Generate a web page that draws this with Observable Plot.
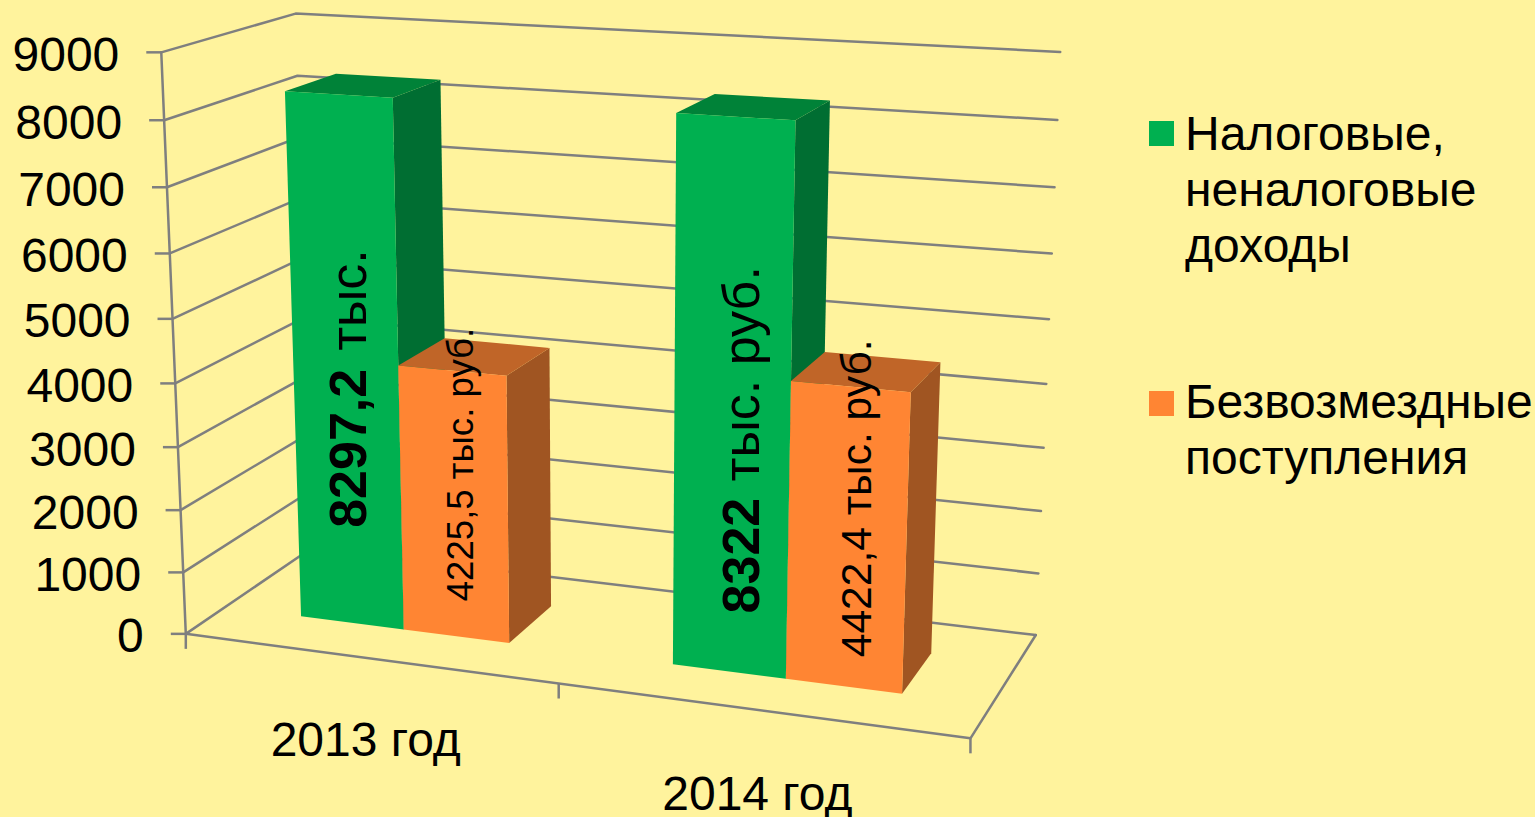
<!DOCTYPE html>
<html><head><meta charset="utf-8">
<script src="https://cdn.jsdelivr.net/npm/d3@7"></script>
<script src="https://cdn.jsdelivr.net/npm/@observablehq/plot@0.6"></script>
<style>
html,body{margin:0;background:#FFF39D;overflow:hidden;font-family:"Liberation Sans",Arial,sans-serif}
#wrap{position:relative;width:1535px;height:817px}
.sw{position:absolute;left:1149px;width:25px;height:25px}
.lg{position:absolute;left:1185px;font-size:48px;line-height:56px;color:#000;white-space:nowrap}
</style>
</head><body><div id="wrap"><div id="c"></div></div>
<script>
// ---------- data ----------
const categories=["2013 год","2014 год"];
const seriesNames=[["Налоговые,","неналоговые","доходы"],["Безвозмездные","поступления"]];
const taxValues=[8297.2,8322];
// Heights as drawn in the picture: the 2014 orange bar stands a little above its printed 4422,4.
const grantValues=[4225.5,4547];
const axisValues=[0,1000,2000,3000,4000,5000,6000,7000,8000,9000];
const boldLabels=["8297,2","8322"];
const taxUnitLabels=["тыс.","тыс. руб."];
const grantLabels=["4225,5 тыс. руб.","4422,4 тыс. руб."];

// ---------- styles ----------
const greenFaces={front:"#00B050",side:"#006E32",top:"#008238"};
const orangeFaces={front:"#FF8533",side:"#A05522",top:"#C06528"};
const grid="#7F7F7F",font="Liberation Sans";

// ---------- 3D view of the chart box (unit box, value 0..9000) ----------
const anchors=[[0,0,0,185,633],[1,0,0,970,738],[1,1,0,1035,635],[0,1,0,311,548],[0,0,9,160.5,52],[0,1,9,295,13],[1,1,9,1060,52],
[0,0,8,163.5,119],[0,0,7,166.7,187],[0,0,6,169.5,253],[0,0,5,172,319],[0,0,4,175,383],[0,0,3,177.5,447],[0,0,2,180,509],[0,0,1,182.7,572],
[1,1,8,1057,119],[1,1,7,1054,187],[1,1,6,1051,253],[1,1,5,1048,319],[1,1,4,1046,383],[1,1,3,1043,447],[1,1,2,1041,510],[1,1,1,1038,573]];
function fit(){const n=11,A=Array.from({length:n},()=>Array(n+1).fill(0));
 const add=(r,t)=>{for(let i=0;i<n;i++){for(let j=0;j<n;j++)A[i][j]+=r[i]*r[j];A[i][n]+=r[i]*t}};
 for(const [u,d,w0,x0,y0] of anchors){const w=w0/9,x=x0/1000,y=y0/1000;
  add([u,d,w,1,0,0,0,0,-x*u,-x*d,-x*w],x);add([0,0,0,0,u,d,w,1,-y*u,-y*d,-y*w],y)}
 for(let i=0;i<n;i++){let p=i;for(let r=i+1;r<n;r++)if(Math.abs(A[r][i])>Math.abs(A[p][i]))p=r;[A[i],A[p]]=[A[p],A[i]];
  for(let r=0;r<n;r++)if(r!==i){const f=A[r][i]/A[i][i];for(let c=i;c<=n;c++)A[r][c]-=f*A[i][c]}}
 return A.map((r,i)=>r[n]/r[i])}
const M=fit();
function project(u,d,v){const w=v/9000,q=M[8]*u+M[9]*d+M[10]*w+1;
 return [1000*(M[0]*u+M[1]*d+M[2]*w+M[3])/q,1000*(M[4]*u+M[5]*d+M[6]*w+M[7])/q]}
const px=p=>project(...p)[0],py=p=>project(...p)[1];

// ---------- geometry built from the data ----------
const barW=1/7,gap=0.75*barW,dF=0.3,dB=0.7;
const uLeft=(c,s)=>c*0.5+gap+s*barW;
function bar(c,s,v,faces,id){
 const u0=uLeft(c,s),u1=u0+barW;
 const face=(name,corners)=>corners.map(p=>({p,face:id+name,color:faces[name]}));
 return [
  ...face("side",[[u1,dF,0],[u1,dB,0],[u1,dB,v],[u1,dF,v]]),
  ...face("top",[[u0,dF,v],[u1,dF,v],[u1,dB,v],[u0,dB,v]]),
  ...face("front",[[u0,dF,0],[u1,dF,0],[u1,dF,v],[u0,dF,v]])
 ];
}
const faces=categories.flatMap((_,c)=>[...bar(c,0,taxValues[c],greenFaces,"t"+c),...bar(c,1,grantValues[c],orangeFaces,"g"+c)]);
const wallLines=axisValues.flatMap(v=>[[0,0,v],[0,1,v],[1,1,v]].map(p=>({p,z:v})));
const floorLine=[[0,0,0],[1,0,0],[1,1,0]].map(p=>({p}));
const axisLine=[[0,0,0],[0,0,9000]].map(p=>({p}));
const vTicks=[0,0.5,1].map(u=>[u,0,0]);

// ---------- layout offsets in pixels ----------
const tickLen=15,labelGap=42,labelDrop=3,lineW=2.5;
const catDrop=[83,84],catShift=[-2,-2];
const boldPos=[[-3,-95],[13.5,-58]],unitPos=[[-3,-272],[13.5,-190]],grantPos=[[5,-35],[14,-29]];
const grantSize=[36.6,42.5];
const foot=(c,s)=>[uLeft(c,s)+barW/2,dF,0];

const plot=Plot.plot({width:1535,height:817,margin:0,style:{background:"transparent",overflow:"visible"},
 x:{domain:[0,1535],range:[0,1535],axis:null},y:{domain:[0,817],range:[0,817],axis:null},color:{type:"identity"},
 marks:[
  Plot.line(wallLines,{x:d=>px(d.p),y:d=>py(d.p),z:"z",stroke:grid,strokeWidth:lineW}),
  Plot.line(floorLine,{x:d=>px(d.p),y:d=>py(d.p),stroke:grid,strokeWidth:lineW}),
  Plot.line(axisLine,{x:d=>px(d.p),y:d=>py(d.p),stroke:grid,strokeWidth:lineW}),
  Plot.link(axisValues,{x1:v=>px([0,0,v])-tickLen,x2:v=>px([0,0,v]),y1:v=>py([0,0,v]),y2:v=>py([0,0,v]),stroke:grid,strokeWidth:lineW}),
  Plot.link(vTicks,{x1:px,x2:px,y1:py,y2:p=>py(p)+tickLen,stroke:grid,strokeWidth:lineW}),
  Plot.line(faces,{x:d=>px(d.p),y:d=>py(d.p),z:"face",fill:"color",stroke:"none",curve:"linear-closed"}),
  Plot.text(axisValues,{x:v=>px([0,0,v])-labelGap,y:v=>py([0,0,v])+labelDrop,text:v=>String(v),textAnchor:"end",fontSize:48,fontFamily:font,fill:"#000"}),
  Plot.text(categories,{x:(d,i)=>px([i*0.5+0.25,0,0])+catShift[i],y:(d,i)=>py([i*0.5+0.25,0,0])+catDrop[i],text:d=>d,fontSize:48,fontFamily:font,fill:"#000"}),
  Plot.text(boldLabels,{x:(d,i)=>px(foot(i,0))+boldPos[i][0],y:(d,i)=>py(foot(i,0))+boldPos[i][1],text:d=>d,rotate:-90,textAnchor:"start",fontSize:52,fontWeight:"bold",fontFamily:font,fill:"#000"}),
  Plot.text(taxUnitLabels,{x:(d,i)=>px(foot(i,0))+unitPos[i][0],y:(d,i)=>py(foot(i,0))+unitPos[i][1],text:d=>d,rotate:-90,textAnchor:"start",fontSize:52,fontFamily:font,fill:"#000"}),
  ...grantLabels.map((t,i)=>Plot.text([t],{x:()=>px(foot(i,1))+grantPos[i][0],y:()=>py(foot(i,1))+grantPos[i][1],text:d=>d,rotate:-90,textAnchor:"start",fontSize:grantSize[i],fontFamily:font,fill:"#000"}))
 ]});
document.getElementById("c").append(plot);

// ---------- legend ----------
const wrap=document.getElementById("wrap");
[[greenFaces.front,121,106],[orangeFaces.front,391,374]].forEach(([col,top,txt],i)=>{
 const s=document.createElement("div");s.className="sw";s.style.top=top+"px";s.style.background=col;wrap.append(s);
 const l=document.createElement("div");l.className="lg";l.style.top=txt+"px";l.innerHTML=seriesNames[i].join("<br>");wrap.append(l);
});
</script></body></html>
